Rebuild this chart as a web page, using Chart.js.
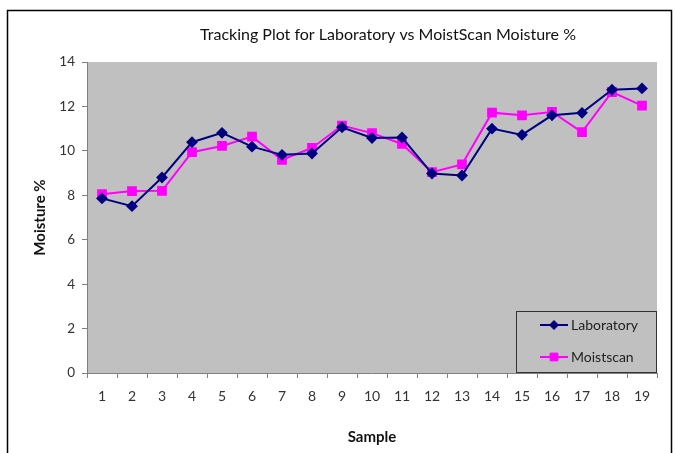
<!DOCTYPE html>
<html>
<head>
<meta charset="utf-8">
<script src="https://cdn.jsdelivr.net/npm/chart.js@4/dist/chart.umd.min.js"></script>
<style>
  html, body { margin: 0; padding: 0; background: #fff; }
  #wrap { width: 675px; height: 453px; position: relative; }
</style>
</head>
<body>
<div id="wrap"><canvas id="c" width="675" height="453"></canvas></div>
<script>
const samples = ['1','2','3','4','5','6','7','8','9','10','11','12','13','14','15','16','17','18','19'];
const laboratory = [7.86, 7.51, 8.80, 10.39, 10.81, 10.19, 9.82, 9.88, 11.06, 10.58, 10.60, 8.98, 8.89, 11.00, 10.72, 11.60, 11.71, 12.75, 12.81];
const moistscan  = [8.05, 8.19, 8.20, 9.94, 10.22, 10.64, 9.60, 10.13, 11.14, 10.80, 10.31, 9.04, 9.39, 11.72, 11.60, 11.75, 10.84, 12.65, 12.04];
const yTicks = [0, 2, 4, 6, 8, 10, 12, 14];
const chartTitle = 'Tracking Plot for Laboratory vs MoistScan Moisture %';

const FONT = 'Lato, "Liberation Sans", sans-serif';

const frame = {
  id: 'frame',
  beforeDraw(chart) {
    const { ctx, chartArea: a } = chart;
    ctx.save();
    ctx.fillStyle = '#ffffff';
    ctx.fillRect(0, 0, chart.width, chart.height);
    ctx.fillStyle = '#c0c0c0';
    ctx.fillRect(a.left, a.top, a.right - a.left, a.bottom - a.top);
    ctx.strokeStyle = '#000';
    ctx.lineWidth = 1.5;
    ctx.strokeRect(7.5, 10.5, 664, 470);
    ctx.fillStyle = '#111';
    ctx.font = '16px ' + FONT;
    ctx.textAlign = 'center';
    ctx.textBaseline = 'middle';
    ctx.fillText(chartTitle, 388, 35);
    ctx.restore();
  }
};

const boxLegend = {
  id: 'boxLegend',
  afterDatasetsDraw(chart) {
    const { ctx, chartArea: a } = chart;
    const w = 141, h = 62;
    const x0 = a.right - w, y0 = a.bottom - h;
    ctx.save();
    ctx.fillStyle = '#c0c0c0';
    ctx.fillRect(x0, y0, w, h);
    ctx.strokeStyle = '#333';
    ctx.lineWidth = 1;
    ctx.strokeRect(x0 + 0.5, y0 + 0.5, w - 1, h - 1);
    chart.data.datasets.forEach((ds, i) => {
      const cy = y0 + 14 + i * 32;
      ctx.strokeStyle = ds.borderColor;
      ctx.lineWidth = 2;
      ctx.beginPath();
      ctx.moveTo(x0 + 24, cy);
      ctx.lineTo(x0 + 52, cy);
      ctx.stroke();
      ctx.fillStyle = ds.pointBackgroundColor;
      ctx.strokeStyle = ds.pointBorderColor;
      ctx.lineWidth = 1;
      Chart.helpers.drawPoint(ctx, { pointStyle: ds.pointStyle, radius: ds.pointRadius, borderWidth: 1 }, x0 + 38, cy);
      ctx.fillStyle = '#222';
      ctx.font = '14px ' + FONT;
      ctx.textBaseline = 'middle';
      ctx.textAlign = 'left';
      ctx.fillText(ds.label, x0 + 55, cy);
    });
    ctx.restore();
  }
};

new Chart(document.getElementById('c'), {
  type: 'line',
  data: {
    labels: samples,
    datasets: [
      {
        label: 'Laboratory',
        data: laboratory,
        borderColor: '#000080',
        backgroundColor: '#000080',
        pointBackgroundColor: '#000080',
        pointBorderColor: '#000080',
        pointStyle: 'rectRot',
        pointRadius: 4.5,
        borderWidth: 2,
        tension: 0
      },
      {
        label: 'Moistscan',
        data: moistscan,
        borderColor: '#ff00ff',
        backgroundColor: '#ff00ff',
        pointBackgroundColor: '#ff00ff',
        pointBorderColor: '#ff00ff',
        pointStyle: 'rect',
        pointRadius: 5.5,
        borderWidth: 2,
        tension: 0
      }
    ]
  },
  options: {
    responsive: false,
    animation: false,
    layout: { padding: { left: 20, right: 18, top: 62, bottom: 0 } },
    plugins: {
      legend: { display: false },
      tooltip: { enabled: false },
      title: { display: false }
    },
    scales: {
      x: {
        type: 'category',
        offset: true,
        afterFit(s) { s.height = 80; },
        border: { display: true, color: '#808080', width: 1 },
        grid: { display: true, drawOnChartArea: false, offset: true, tickLength: 5, color: '#808080' },
        ticks: { color: '#333', font: { family: FONT, size: 14 }, padding: 10, maxRotation: 0, autoSkip: false },
        title: { display: true, text: 'Sample', color: '#111', font: { family: FONT, size: 15, weight: 'bold' }, padding: { top: 0, bottom: 7 } }
      },
      y: {
        min: 0,
        max: 14,
        afterFit(s) { s.width = 67; },
        afterBuildTicks(s) { s.ticks = yTicks.map(v => ({ value: v })); },
        border: { display: true, color: '#808080', width: 1 },
        grid: { display: true, drawOnChartArea: false, tickLength: 5, color: '#808080' },
        ticks: { color: '#333', font: { family: FONT, size: 13.5 }, padding: 7 },
        title: { display: true, text: 'Moisture %', color: '#111', font: { family: FONT, size: 15, weight: 'bold' }, padding: { top: 11, bottom: 0 } }
      }
    }
  },
  plugins: [frame, boxLegend]
});
</script>
</body>
</html>
